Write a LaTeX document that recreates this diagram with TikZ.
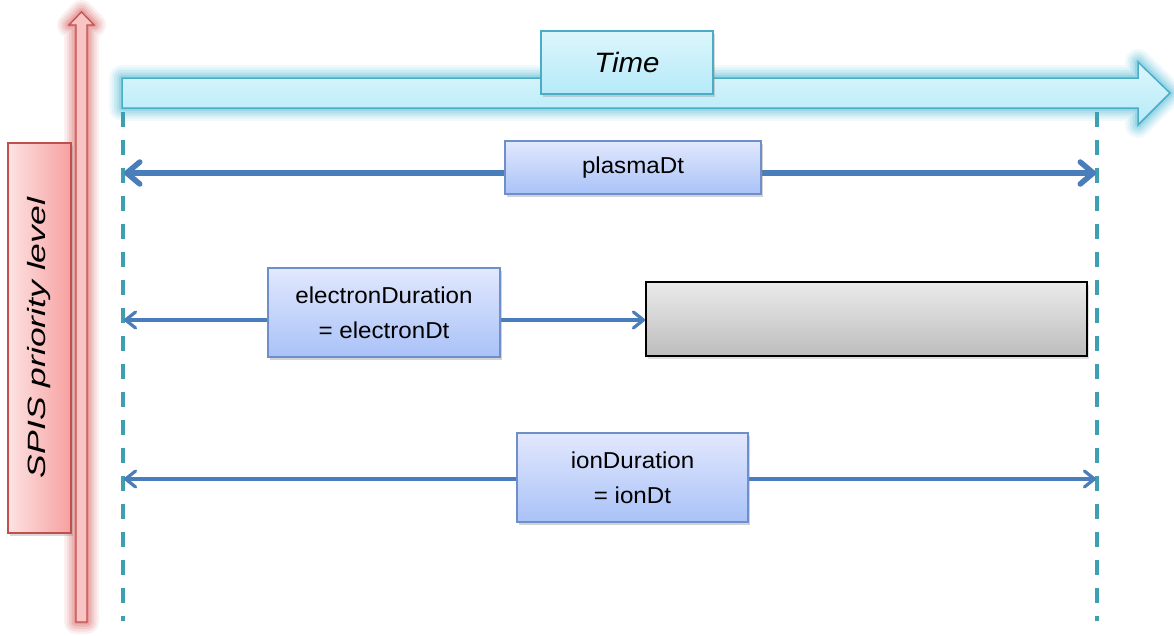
\documentclass[tikz,border=0pt]{standalone}
\usepackage{fontspec}
\setmainfont{Liberation Sans}
\newfontfamily\lblfont[FakeStretch=1.05]{Liberation Sans}
\usetikzlibrary{arrows.meta,shadows}
\definecolor{blueline}{HTML}{4A7EBB}
\definecolor{lbltop}{HTML}{E2E8FE}
\definecolor{lblbot}{HTML}{A9C2F7}
\definecolor{lblborder}{HTML}{6F8FCB}
\definecolor{cyanborder}{HTML}{4BACC6}
\definecolor{cyantop}{HTML}{DDF6FC}
\definecolor{cyanbot}{HTML}{B5EAF8}
\definecolor{cyanglow}{HTML}{3FB4D2}
\definecolor{dashcol}{HTML}{3E9FB3}
\definecolor{redborder}{HTML}{C0504D}
\definecolor{redfill}{HTML}{F9C4C4}
\definecolor{redglow}{HTML}{D04040}
\definecolor{redleft}{HTML}{FDE3E3}
\definecolor{redright}{HTML}{F7A0A0}
\tikzset{
  lblbox/.style={draw=lblborder, line width=1.2pt, top color=lbltop, bottom color=lblbot,
    inner sep=0pt, align=center, font=\lblfont\fontsize{23}{35}\selectfont,
    drop shadow={shadow xshift=2pt, shadow yshift=-2.5pt, opacity=0.35}},
  timebox/.style={draw=cyanborder, line width=1.5pt, top color=cyantop, bottom color=cyanbot,
    inner sep=0pt, font=\lblfont\fontsize{28}{32}\selectfont\itshape,
    drop shadow={shadow xshift=2pt, shadow yshift=-2.5pt, opacity=0.3}},
  graybox/.style={draw=black, line width=2pt, top color=black!8, bottom color=black!26,
    inner sep=0pt, drop shadow={shadow xshift=2pt, shadow yshift=-2.5pt, opacity=0.25}},
  redbox/.style={draw=redborder, line width=1.2pt, left color=redleft, right color=redright,
    inner sep=0pt, drop shadow={shadow xshift=2pt, shadow yshift=-2.5pt, opacity=0.3}},
  guide/.style={dashcol, line width=3.5pt, dash pattern=on 15pt off 13pt},
  bigarrow/.style={blueline, line width=5.5pt, {Straight Barb[length=13pt,width=22pt,round]}-{Straight Barb[length=13pt,width=22pt,round]}},
  smallarrow/.style={blueline, line width=3.2pt, {Straight Barb[length=10pt,width=16pt,round]}-{Straight Barb[length=10pt,width=16pt,round]}}
}
\begin{document}
\begin{tikzpicture}[x=1pt,y=-1pt]
\useasboundingbox (0,0) rectangle (1174,635);
% red priority arrow with glow
\foreach \w/\o in {24/0.08,19/0.1,14/0.13,9/0.17,4/0.22}{
  \draw[redglow, line width=\w pt, opacity=\o, line join=round]
    (76,622) -- (76,25) -- (69,25) -- (81.5,12) -- (94,25) -- (87,25) -- (87,622) -- cycle;
}
\draw[redborder, line width=1.2pt, fill=redfill]
    (76,622) -- (76,25) -- (69,25) -- (81.5,12) -- (94,25) -- (87,25) -- (87,622) -- cycle;
% priority box
\node[redbox, minimum width=63pt, minimum height=390pt] (prio) at (39.5,338) {};
\node[rotate=90, font=\fontsize{25}{28}\selectfont] (priotxt) at (prio.center)
  {\scalebox{1.42}[1]{\itshape SPIS priority level}};
% time arrow with glow
\foreach \w/\o in {26/0.08,21/0.1,16/0.13,11/0.17,6/0.22}{
  \draw[cyanglow, line width=\w pt, opacity=\o, line join=round]
    (122,78) -- (1138,78) -- (1138,62) -- (1170,93) -- (1138,125) -- (1138,108) -- (122,108) -- cycle;
}
\draw[cyanborder, line width=1.5pt, top color=cyantop, bottom color=cyanbot]
    (122,78) -- (1138,78) -- (1138,62) -- (1170,93) -- (1138,125) -- (1138,108) -- (122,108) -- cycle;
% guides
\coordinate (gl1) at (123,112);
\coordinate (gl2) at (123,621);
\coordinate (gr1) at (1097,112);
\coordinate (gr2) at (1097,621);
\draw[guide] (gl1) -- (gl2);
\draw[guide] (gr1) -- (gr2);
% time label
\node[timebox, minimum width=172pt, minimum height=63pt] (time) at (627,62.5) {Time};
% plasma
\coordinate (pl) at (124,173);
\coordinate (pr) at (1096,173);
\draw[bigarrow] (pl) -- (pr);
\node[lblbox, minimum width=256pt, minimum height=53pt] (plasma) at (633,167.5) {plasmaDt};
% electron
\node[graybox, minimum width=441pt, minimum height=74pt] (gray) at (866.5,319) {};
\coordinate (el) at (124,320);
\draw[smallarrow] (el) -- (el -| gray.west);
\node[lblbox, minimum width=232pt, minimum height=89pt] (electron) at (384,312.5)
  {electronDuration\\= electronDt};
% ion
\coordinate (il) at (124,479);
\coordinate (ir) at (1096,479);
\draw[smallarrow] (il) -- (ir);
\node[lblbox, minimum width=231pt, minimum height=89pt] (ion) at (632.5,477.5)
  {ionDuration\\= ionDt};
\end{tikzpicture}
\end{document}
